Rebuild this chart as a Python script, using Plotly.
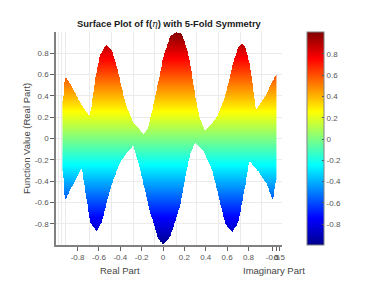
import numpy as np
import plotly.graph_objects as go

upper_x = [-0.936,-0.918,-0.855,-0.777,-0.69,-0.668,-0.637,-0.59,-0.534,-0.48,-0.419,-0.356,-0.281,-0.178,-0.138,-0.059,0.003,0.066,0.119,0.175,0.215,0.253,0.3,0.346,0.393,0.503,0.581,0.658,0.705,0.737,0.768,0.815,0.868,0.955,1.055]
upper_y = [0.337,0.584,0.49,0.337,0.209,0.303,0.553,0.787,0.881,0.834,0.619,0.337,0.15,0.037,0.103,0.459,0.771,0.959,1.0,0.981,0.87,0.712,0.396,0.178,0.068,0.197,0.396,0.724,0.862,0.887,0.862,0.678,0.265,0.396,0.6]
lower_x = [-0.936,-0.92,-0.761,-0.73,-0.684,-0.621,-0.574,-0.496,-0.403,-0.325,-0.278,-0.215,-0.122,-0.044,0.003,0.066,0.159,0.234,0.253,0.3,0.377,0.456,0.518,0.581,0.649,0.705,0.752,0.805,0.877,0.971,1.027,1.055]
lower_y = [-0.29,-0.588,-0.275,-0.478,-0.787,-0.881,-0.787,-0.478,-0.225,-0.119,-0.066,-0.291,-0.694,-0.947,-1.0,-0.928,-0.634,-0.225,-0.15,-0.04,-0.119,-0.291,-0.541,-0.806,-0.884,-0.787,-0.541,-0.213,-0.291,-0.431,-0.588,-0.384]

x_ticks = [-0.8,-0.6,-0.4,-0.2,0,0.2,0.4,0.6,0.8,1.027,1.058,1.09]
x_tick_text = ["-0.8","-0.6","-0.4","-0.2","0","0.2","0.4","0.6","0.8","-0.5","0","0.5"]
x_grid = [-0.978,-0.947,-0.915,-0.684,-0.482,-0.281,-0.08,0.122,0.318,0.52,0.721,0.923]
y_ticks = [-0.8,-0.6,-0.4,-0.2,0,0.2,0.4,0.6,0.8]
y_tick_text = ["-0.8","-0.6","-0.4","-0.2","0","0.2","0.4","0.6","0.8"]

TITLE = "Surface Plot of f(<span style='font-family:DejaVu Serif;font-weight:normal;font-style:italic'>η</span>) with 5-Fold Symmetry"
FONT = "Liberation Sans"
jet = [[0,"rgb(0,0,143)"],[0.125,"rgb(0,0,255)"],[0.375,"rgb(0,255,255)"],[0.625,"rgb(255,255,0)"],[0.875,"rgb(255,0,0)"],[1,"rgb(128,0,0)"]]

L, R, T, B = 56, 99, 32, 36

def fx(px):
    return (px - L) / (381 - L - R)

def fy(py):
    return 1 - (py - T) / (281 - T - B)

def soften(v, sigma=1.5):
    # rounds the straight segments between the read envelope points
    r = int(3 * sigma)
    k = np.exp(-0.5 * (np.arange(-r, r + 1) / sigma) ** 2)
    k /= k.sum()
    return np.convolve(np.pad(v, r, mode="edge"), k, mode="valid")

gx = np.linspace(-0.94, 1.058, 520)
gy = np.linspace(-1.0, 1.0, 520)
top = soften(np.interp(gx, upper_x, upper_y))
bot = soften(np.interp(gx, lower_x, lower_y))
Y, X = np.meshgrid(gy, gx, indexing="ij")
Z = Y.copy()
Z[(Y > top[None, :]) | (Y < bot[None, :])] = np.nan

fig = go.Figure()
fig.add_trace(go.Scatter(x=x_grid, y=[0]*len(x_grid), xaxis="x2", mode="markers",
                         marker=dict(opacity=0), hoverinfo="skip", showlegend=False))
fig.add_trace(go.Heatmap(x=gx, y=gy, z=Z, colorscale=jet, zmin=-1, zmax=1, hoverongaps=False,
    colorbar=dict(thickness=17, thicknessmode="pixels", len=212.5, lenmode="pixels",
                  x=fx(307), xanchor="left", xpad=0, ypad=0,
                  y=fy(245.5), yanchor="bottom", outlinecolor="#808080", outlinewidth=1,
                  tickvals=y_ticks, ticktext=y_tick_text, ticks="inside", ticklen=2,
                  tickcolor="#505050", tickfont=dict(family=FONT, size=8, color="#555555"))))

axis = dict(showline=True, linecolor="#808080", linewidth=1.5, ticks="outside", ticklen=4,
            tickcolor="#606060", tickfont=dict(family=FONT, size=8, color="#555555"),
            zeroline=False, tickangle=0)
label_font = dict(family=FONT, size=9.5, color="#444444")
common = dict(xref="paper", yref="paper", showarrow=False, xanchor="center", yanchor="middle")
fig.update_layout(
    width=381, height=281, paper_bgcolor="white", plot_bgcolor="white", showlegend=False,
    margin=dict(l=L, r=R, t=T, b=B, autoexpand=False),
    xaxis=dict(range=[-1.002,1.114], tickmode="array", tickvals=x_ticks, ticktext=x_tick_text,
               showgrid=False, **axis),
    xaxis2=dict(range=[-1.002,1.114], overlaying="x", side="bottom", tickmode="array", tickvals=x_grid,
                showgrid=True, gridcolor="#ebebeb", gridwidth=1, showticklabels=False, ticks="", zeroline=False),
    yaxis=dict(range=[-1.0,1.0], tickmode="array", tickvals=y_ticks, ticktext=y_tick_text,
               showgrid=True, gridcolor="#ebebeb", gridwidth=1, **axis),
    annotations=[
        dict(text="<b>"+TITLE+"</b>", x=fx(169), y=fy(24), font=dict(family=FONT, size=9.4, color="#1a1a1a"), **common),
        dict(text="Real Part", x=fx(120), y=fy(270.5), font=label_font, **common),
        dict(text="Imaginary Part", x=fx(273.5), y=fy(270.5), font=label_font, **common),
        dict(text="Function Value (Real Part)", x=fx(26), y=fy(138), textangle=-90, font=label_font, **common),
    ],
)
fig.write_html("out.html", config=dict(displayModeBar=False), post_script="document.body.style.margin='0';")
